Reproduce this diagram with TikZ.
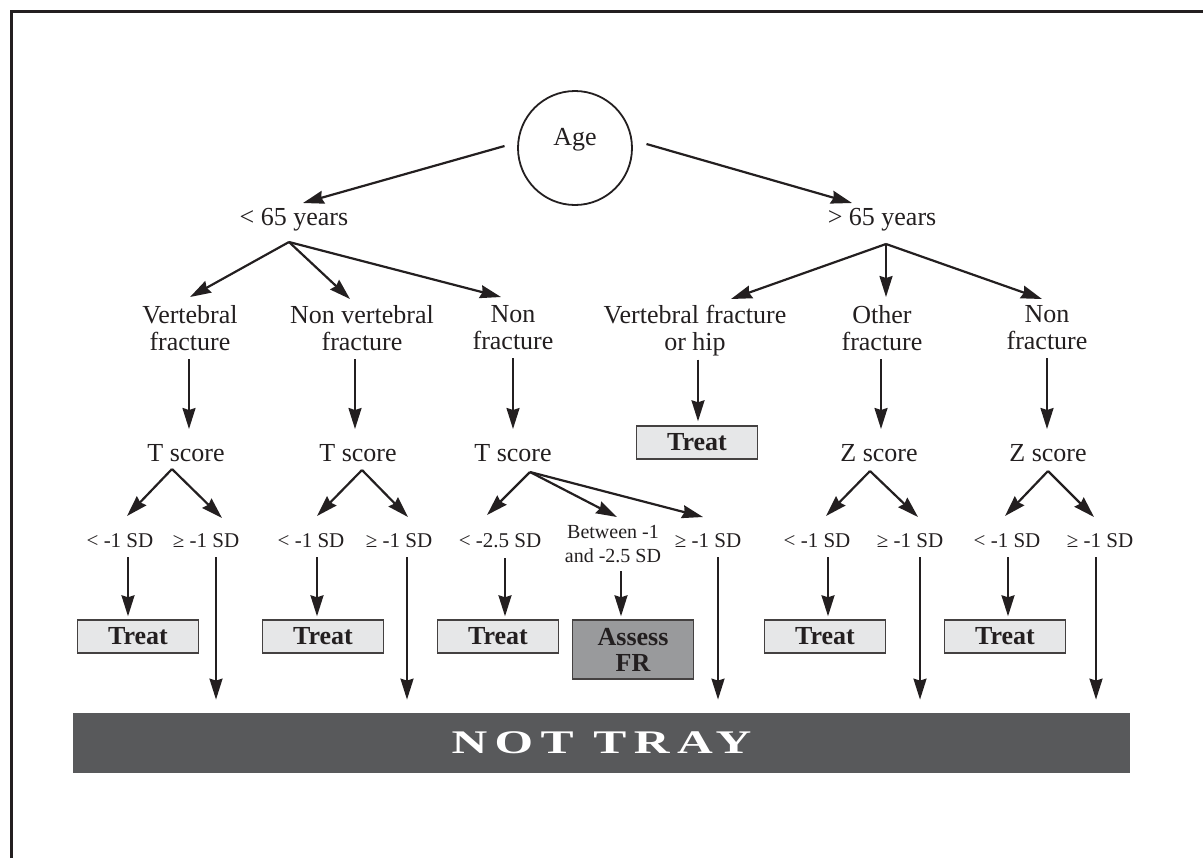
\documentclass[tikz,border=0pt]{standalone}
\usepackage{fontspec}
\setmainfont{Liberation Serif}
\usepackage{graphicx}
\usepackage{tikz}
\usetikzlibrary{positioning,arrows.meta}

\definecolor{ink}{HTML}{231F20}
\definecolor{boxfill}{HTML}{E6E7E8}
\definecolor{assessfill}{HTML}{999A9C}
\definecolor{bargray}{HTML}{58595B}

\begin{document}
\begin{tikzpicture}[
    x=0.5pt, y=-0.5pt,
    txt/.style={font=\fontsize{13}{13.5}\selectfont, align=center, inner sep=0pt, text=ink},
    sd/.style={font=\fontsize{10.5}{12}\selectfont, align=center, inner sep=0pt, text=ink},
    treat/.style={
      draw=ink!85, line width=0.7pt, fill=boxfill, text=ink, align=center,
      font=\fontsize{13}{13}\selectfont\bfseries, inner sep=0pt,
      minimum width=60.5pt, minimum height=16.5pt
    },
    assess/.style={treat, fill=assessfill, minimum height=29.5pt},
    bar/.style={
      fill=bargray, text=white, inner sep=0pt,
      minimum width=528.5pt, minimum height=30pt,
      font=\fontsize{16.5}{18}\selectfont\bfseries\addfontfeature{LetterSpace=15}
    },
    agecirc/.style={circle, draw=ink, line width=0.9pt, minimum size=57pt, inner sep=0pt},
    arr/.style={-{Stealth[length=10.5pt,width=6.5pt,inset=1pt]}, line width=1.1pt, draw=ink},
  ]
    \useasboundingbox (0,0) rectangle (1203,858);
    \draw[ink, line width=1.5pt] (11,858) -- (11,11) -- (1203,11);

    \node[agecirc](age) at (575,148) {};
    \node[txt, anchor=base](agetxt) at (575,145) {Age};
    \node[txt, anchor=base](lt65) at (294,225) {< 65 years};
    \node[txt, anchor=base](gt65) at (882,225) {> 65 years};

    \node[txt, anchor=north](vf1) at (190,305) {Vertebral\\fracture};
    \node[txt, anchor=north](nvf) at (362,305) {Non vertebral\\fracture};
    \node[txt, anchor=north](nf1) at (513,305) {Non\\fracture};
    \node[txt, anchor=north](vfh) at (695,305) {Vertebral fracture\\or hip};
    \node[txt, anchor=north](othf) at (882,305) {Other\\fracture};
    \node[txt, anchor=north](nf2) at (1047,305) {Non\\fracture};

    \node[txt, anchor=base](ts1) at (186,461) {T score};
    \node[txt, anchor=base](ts2) at (358,461) {T score};
    \node[txt, anchor=base](ts3) at (513,461) {T score};
    \node[treat](treat0) at (697,442.5) {Treat};
    \node[txt, anchor=base](zs1) at (879,461) {Z score};
    \node[txt, anchor=base](zs2) at (1048,461) {Z score};

    \node[sd, anchor=base](l1a) at (120,547) {< -1 SD};
    \node[sd, anchor=base](l1b) at (206,547) {≥ -1 SD};
    \node[sd, anchor=base](l2a) at (311,547) {< -1 SD};
    \node[sd, anchor=base](l2b) at (399,547) {≥ -1 SD};
    \node[sd, anchor=base](l3a) at (500,547) {< -2.5 SD};
    \node[sd, anchor=north, font=\fontsize{10}{12}\selectfont](l3m) at (613,525) {Between -1\\and -2.5 SD};
    \node[sd, anchor=base](l3b) at (708,547) {≥ -1 SD};
    \node[sd, anchor=base](l4a) at (817,547) {< -1 SD};
    \node[sd, anchor=base](l4b) at (910,547) {≥ -1 SD};
    \node[sd, anchor=base](l5a) at (1007,547) {< -1 SD};
    \node[sd, anchor=base](l5b) at (1100,547) {≥ -1 SD};

    \node[treat](treat1) at (138,636.5) {Treat};
    \node[treat](treat2) at (323,636.5) {Treat};
    \node[treat](treat3) at (498,636.5) {Treat};
    \node[assess](assess) at (633,649.5) {Assess\\FR};
    \node[treat](treat4) at (825,636.5) {Treat};
    \node[treat](treat5) at (1005,636.5) {Treat};

    \node[bar](nottray) at (601.5,743) {\scalebox{1.5}[1]{NOT TRAY}};

    \coordinate (lt65o) at ([xshift=-2.5pt,yshift=-8.5pt]lt65.base);
    \coordinate (gt65o) at ([xshift=2pt,yshift=-9.5pt]gt65.base);
    \coordinate (ts1o) at ([xshift=-7pt,yshift=-4pt]ts1.base);
    \coordinate (ts2o) at ([xshift=2pt,yshift=-4.5pt]ts2.base);
    \coordinate (ts3o) at ([xshift=8.5pt,yshift=-5.5pt]ts3.base);
    \coordinate (zs1o) at ([xshift=-4.5pt,yshift=-5pt]zs1.base);
    \coordinate (zs2o) at ([yshift=-5pt]zs2.base);

    \draw[arr] ([xshift=-6.3pt,yshift=1pt]age.west) -- ([xshift=4.5pt,yshift=11pt]lt65.base);
    \draw[arr] ([xshift=6.8pt,yshift=2pt]age.east) -- ([xshift=-15pt,yshift=11pt]gt65.base);

    \draw[arr] (lt65o) -- ([yshift=4pt]vf1.north);
    \draw[arr] (lt65o) -- ([xshift=-6pt,yshift=3pt]nvf.north);
    \draw[arr] (lt65o) -- ([xshift=-6pt,yshift=4pt]nf1.north);
    \draw[arr] (gt65o) -- ([xshift=18pt,yshift=3pt]vfh.north);
    \draw[arr] (gt65o) -- ([xshift=2pt,yshift=4pt]othf.north);
    \draw[arr] (gt65o) -- ([xshift=-2.5pt,yshift=3pt]nf2.north);

    \draw[arr] ([xshift=-0.5pt,yshift=-4pt]vf1.south) -- ([xshift=-0.5pt,yshift=16pt]vf1.south |- ts1.base);
    \draw[arr] ([xshift=-3.5pt,yshift=-4pt]nvf.south) -- ([xshift=-3.5pt,yshift=16pt]nvf.south |- ts2.base);
    \draw[arr] ([yshift=-4pt]nf1.south) -- ([yshift=16pt]nf1.south |- ts3.base);
    \draw[arr] ([xshift=1.5pt,yshift=-1.5pt]vfh.south) -- ([xshift=1.5pt,yshift=2pt]vfh.south |- treat0.north);
    \draw[arr] ([xshift=-0.5pt,yshift=-4pt]othf.south) -- ([xshift=-0.5pt,yshift=16pt]othf.south |- zs1.base);
    \draw[arr] ([yshift=-4pt]nf2.south) -- ([yshift=16pt]nf2.south |- zs2.base);

    \draw[arr] (ts1o) -- ([xshift=3.5pt,yshift=15.5pt]l1a.base);
    \draw[arr] (ts1o) -- ([xshift=8pt,yshift=14.5pt]l1b.base);
    \draw[arr] (ts2o) -- ([xshift=3pt,yshift=15.5pt]l2a.base);
    \draw[arr] (ts2o) -- ([xshift=4.5pt,yshift=15pt]l2b.base);
    \draw[arr] (ts3o) -- ([xshift=-6.5pt,yshift=16pt]l3a.base);
    \draw[arr] (ts3o) -- ([xshift=2pt,yshift=4pt]l3m.north);
    \draw[arr] (ts3o) -- ([xshift=-2.5pt,yshift=15pt]l3b.base);
    \draw[arr] (zs1o) -- ([xshift=4.5pt,yshift=15.5pt]l4a.base);
    \draw[arr] (zs1o) -- ([xshift=4pt,yshift=15pt]l4b.base);
    \draw[arr] (zs2o) -- ([xshift=-1pt,yshift=15.5pt]l5a.base);
    \draw[arr] (zs2o) -- ([xshift=-3pt,yshift=15pt]l5b.base);

    \draw[arr] ([xshift=4pt,yshift=-5pt]l1a.base) -- ([xshift=4pt,yshift=1.5pt]l1a.base |- treat1.north);
    \draw[arr] ([xshift=5pt,yshift=-5pt]l1b.base) -- ([xshift=5pt,yshift=6.5pt]l1b.base |- nottray.north);
    \draw[arr] ([xshift=3pt,yshift=-5pt]l2a.base) -- ([xshift=3pt,yshift=1.5pt]l2a.base |- treat2.north);
    \draw[arr] ([xshift=4pt,yshift=-5pt]l2b.base) -- ([xshift=4pt,yshift=6.5pt]l2b.base |- nottray.north);
    \draw[arr] ([xshift=2.5pt,yshift=-5.5pt]l3a.base) -- ([xshift=2.5pt,yshift=1.5pt]l3a.base |- treat3.north);
    \draw[arr] ([xshift=4pt,yshift=-4pt]l3m.south) -- ([xshift=4pt,yshift=1.5pt]l3m.south |- assess.north);
    \draw[arr] ([xshift=5pt,yshift=-5pt]l3b.base) -- ([xshift=5pt,yshift=6.5pt]l3b.base |- nottray.north);
    \draw[arr] ([xshift=5.5pt,yshift=-5pt]l4a.base) -- ([xshift=5.5pt,yshift=1.5pt]l4a.base |- treat4.north);
    \draw[arr] ([xshift=5pt,yshift=-5pt]l4b.base) -- ([xshift=5pt,yshift=6.5pt]l4b.base |- nottray.north);
    \draw[arr] ([xshift=0.5pt,yshift=-5pt]l5a.base) -- ([xshift=0.5pt,yshift=1.5pt]l5a.base |- treat5.north);
    \draw[arr] ([xshift=-2pt,yshift=-5pt]l5b.base) -- ([xshift=-2pt,yshift=6.5pt]l5b.base |- nottray.north);

  \end{tikzpicture}
\end{document}
